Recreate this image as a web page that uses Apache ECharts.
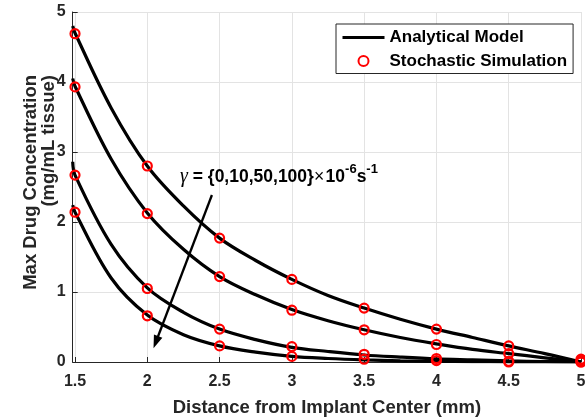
<!DOCTYPE html>
<html><head><meta charset="utf-8">
<script src="https://cdn.jsdelivr.net/npm/echarts@6/dist/echarts.min.js"></script>
<style>html,body{margin:0;padding:0;background:#fff}#c{width:585px;height:420px}</style>
</head><body><div id="c"></div>
<script>
// Analytical model curves
const xLine   = [1.484, 1.5, 1.75, 2, 2.25, 2.5, 2.75, 3, 3.25, 3.5, 3.75, 4, 4.25, 4.5, 4.75, 5];
const lineG0   = [4.80, 4.70, 3.63, 2.80, 2.23, 1.77, 1.45, 1.18, 0.95, 0.77, 0.61, 0.47, 0.35, 0.23, 0.12, 0.00];
const lineG10  = [4.05, 3.94, 2.90, 2.13, 1.61, 1.22, 0.96, 0.75, 0.59, 0.46, 0.35, 0.26, 0.18, 0.12, 0.06, 0.00];
const lineG50  = [2.86, 2.67, 1.68, 1.06, 0.71, 0.47, 0.32, 0.21, 0.15, 0.10, 0.07, 0.045, 0.03, 0.015, 0.007, 0.00];
const lineG100 = [2.24, 2.14, 1.20, 0.67, 0.39, 0.23, 0.14, 0.08, 0.05, 0.03, 0.017, 0.01, 0.006, 0.003, 0.001, 0.00];
// Stochastic simulation points
const xSim     = [1.5, 2, 2.5, 3, 3.5, 4, 4.5, 5];
const simG0    = [4.69, 2.80, 1.77, 1.18, 0.77, 0.47, 0.23, 0.04];
const simG10   = [3.93, 2.12, 1.22, 0.74, 0.46, 0.25, 0.12, 0.02];
const simG50   = [2.67, 1.05, 0.47, 0.22, 0.11, 0.05, 0.01, 0.00];
const simG100  = [2.14, 0.66, 0.23, 0.08, 0.04, 0.02, 0.00, 0.00];
const seriesNames = ['Analytical Model', 'Stochastic Simulation'];
const xTitle = 'Distance from Implant Center (mm)';
const yTitle1 = 'Max Drug Concentration';
const yTitle2 = '(mg/mL tissue)';

const FONT = '"Liberation Sans", Arial, Helvetica, sans-serif';
const AX = '#262626';
const zip = (xs, ys) => xs.map((x, i) => [x, ys[i]]);

const chart = echarts.init(document.getElementById('c'), null, {renderer: 'canvas'});

const lineSets = [lineG0, lineG10, lineG50, lineG100];
const simSets = [simG0, simG10, simG50, simG100];

const series = [];
lineSets.forEach(ys => series.push({
  type: 'line', name: seriesNames[0], data: zip(xLine, ys),
  symbol: 'none', smooth: 0.35, lineStyle: {color: '#000', width: 3.2}, itemStyle: {color: '#000'},
  z: 2, silent: true
}));
simSets.forEach(ys => series.push({
  type: 'scatter', name: seriesNames[1], data: zip(xSim, ys),
  symbol: 'circle', symbolSize: 9,
  itemStyle: {color: 'rgba(0,0,0,0)', borderColor: '#ff0000', borderWidth: 2.2, opacity: 1},
  z: 3, silent: true
}));

chart.setOption({
  animation: false,
  backgroundColor: '#fff',
  grid: {left: 72.7, top: 12, width: 508.3, height: 350, containLabel: false, outerBoundsMode: 'none'},
  xAxis: {
    type: 'value', min: 1.484, max: 5, splitNumber: 7,
    name: xTitle, nameLocation: 'middle', nameGap: 36,
    nameTextStyle: {fontFamily: FONT, fontWeight: 'bold', fontSize: 18.5, color: AX},
    axisLine: {show: true, onZero: false, lineStyle: {color: AX, width: 1}},
    axisTick: {show: true, inside: true, length: 5, lineStyle: {color: AX}},
    axisLabel: {
      fontFamily: FONT, fontWeight: 'bold', fontSize: 16, color: AX, margin: 12,
      formatter: v => (Math.abs(v * 2 - Math.round(v * 2)) < 1e-6 ? String(+v.toFixed(1)) : '')
    },
    splitLine: {show: true, lineStyle: {color: '#e3e3e3', width: 1}}
  },
  yAxis: {
    type: 'value', min: 0, max: 5, interval: 1,
    axisLine: {show: true, onZero: false, lineStyle: {color: AX, width: 1}},
    axisTick: {show: true, inside: true, length: 5, lineStyle: {color: AX}},
    axisLabel: {fontFamily: FONT, fontWeight: 'bold', fontSize: 16, color: AX, margin: 7},
    splitLine: {show: true, lineStyle: {color: '#e3e3e3', width: 1}}
  },
  legend: {
    orient: 'vertical', left: 336, top: 24,
    padding: [5, 6, 4, 5], itemGap: 6.5, itemWidth: 42, itemHeight: 10,
    backgroundColor: '#fff', borderColor: AX, borderWidth: 1,
    selectedMode: false,
    textStyle: {fontFamily: FONT, fontWeight: 'bold', fontSize: 17, color: '#000'},
    data: [
      {name: seriesNames[0], lineStyle: {width: 3, color: '#000'},
       itemStyle: {color: 'rgba(0,0,0,0)', borderWidth: 0, borderColor: 'rgba(0,0,0,0)'}},
      {name: seriesNames[1]}
    ]
  },
  series: series
});

// Annotation and y-axis title (graphics)
const ctx = document.createElement('canvas').getContext('2d');
function textW(font, s) { ctx.font = font; return ctx.measureText(s).width; }
const annParts = [
  {t: '\u03B3', style: 'italic', weight: 'normal', size: 20, fam: '"Liberation Serif", "Times New Roman", serif', dy: 0},
  {t: ' = {0,10,50,100}', style: 'normal', weight: 'bold', size: 17.5, fam: FONT, dy: 0},
  {t: '\u00D7', style: 'normal', weight: 'normal', size: 17.5, fam: FONT, dy: 0},
  {t: '10', style: 'normal', weight: 'bold', size: 17.5, fam: FONT, dy: 0},
  {t: '-6', style: 'normal', weight: 'bold', size: 13, fam: FONT, dy: -8},
  {t: 's', style: 'normal', weight: 'bold', size: 17.5, fam: FONT, dy: 0},
  {t: '-1', style: 'normal', weight: 'bold', size: 13, fam: FONT, dy: -8}
];
const graphics = [];
let ax = 180, ay = 177;
annParts.forEach(p => {
  graphics.push({
    type: 'text', x: ax, y: ay + p.dy, silent: true, z: 10,
    style: {text: p.t, fontFamily: p.fam, fontSize: p.size, fontWeight: p.weight, fontStyle: p.style,
            fill: '#000', align: 'left', verticalAlign: 'middle'}
  });
  ax += textW(p.style + ' ' + p.weight + ' ' + p.size + 'px ' + p.fam, p.t) + (p.t === '\u00D7' ? 1.5 : 0);
});

// Arrow (annotation) in data coordinates
const arrowFrom = [2.447, 2.386];
const arrowTo = [2.043, 0.196];
const p0 = chart.convertToPixel({gridIndex: 0}, arrowFrom);
const p1 = chart.convertToPixel({gridIndex: 0}, arrowTo);
const dx = p1[0] - p0[0], dy = p1[1] - p0[1];
const L = Math.hypot(dx, dy), ux = dx / L, uy = dy / L;
const headL = 13, headW = 4.5;
const bx = p1[0] - ux * headL, by = p1[1] - uy * headL;
graphics.push({
  type: 'line', silent: true, z: 10,
  shape: {x1: p0[0], y1: p0[1], x2: bx + ux * 2, y2: by + uy * 2},
  style: {stroke: '#000', lineWidth: 2.3}
});
graphics.push({
  type: 'polygon', silent: true, z: 10,
  shape: {points: [[p1[0], p1[1]], [bx - uy * headW, by + ux * headW], [bx + uy * headW, by - ux * headW]]},
  style: {fill: '#000'}
});

// y-axis title, two lines
[[31, yTitle1], [49, yTitle2]].forEach(([x, t]) => graphics.push({
  type: 'text', x: x, y: 75, rotation: Math.PI / 2, silent: true,
  style: {text: t, fontFamily: FONT, fontSize: 18.5, fontWeight: 'bold', fill: AX, align: 'right', verticalAlign: 'middle'}
}));

chart.setOption({graphic: graphics});
</script>
</body></html>
